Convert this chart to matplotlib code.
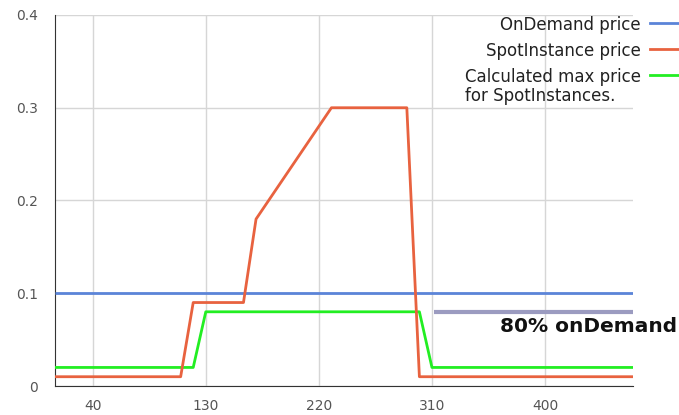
import matplotlib
matplotlib.use("Agg")
import matplotlib.pyplot as plt
from matplotlib.lines import Line2D

plt.rcParams['font.family'] = ['DejaVu Sans']

# Data
ondemand_x = [10, 470]
ondemand_y = [0.1, 0.1]
spot_x = [10, 110, 120, 160, 170, 230, 290, 300, 470]
spot_y = [0.01, 0.01, 0.09, 0.09, 0.18, 0.30, 0.30, 0.01, 0.01]
maxp_x = [10, 120, 130, 300, 310, 470]
maxp_y = [0.02, 0.02, 0.08, 0.08, 0.02, 0.02]
line80_x = [312, 470]
line80_y = [0.08, 0.08]
xticks = [40, 130, 220, 310, 400]
yticks = [0, 0.1, 0.2, 0.3, 0.4]
ytick_labels = ['0', '0.1', '0.2', '0.3', '0.4']
legend_labels = ['OnDemand price', 'SpotInstance price', 'Calculated max price\nfor SpotInstances.']

c_blue = '#5b84d8'
c_red = '#e8623f'
c_green = '#22ee22'
c_80 = '#9b9bc0'

W, H = 679, 415
fig = plt.figure(figsize=(W / 100, H / 100), dpi=100)
ax = fig.add_axes([55 / W, 1 - 386 / H, (633 - 55) / W, (386 - 15) / H])

ax.plot(ondemand_x, ondemand_y, color=c_blue, lw=2, solid_capstyle='butt', zorder=3)
ax.plot(spot_x, spot_y, color=c_red, lw=2, solid_capstyle='butt', zorder=4)
ax.plot(maxp_x, maxp_y, color=c_green, lw=2, solid_capstyle='butt', zorder=3)
ax.plot(line80_x, line80_y, color=c_80, lw=3, solid_capstyle='butt', zorder=3)

ax.set_xlim(10, 470)
ax.set_ylim(0, 0.4)
ax.set_xticks(xticks)
ax.set_xticklabels([str(v) for v in xticks])
ax.set_yticks(yticks)
ax.set_yticklabels(ytick_labels)
ax.grid(True, color='#d6d6d6', lw=1)
ax.set_axisbelow(True)
for s in ['top', 'right']:
    ax.spines[s].set_visible(False)
ax.spines['left'].set_color('#333333')
ax.spines['bottom'].set_color('#333333')
ax.tick_params(length=0, labelsize=10, colors='#555555')
ax.tick_params(axis='x', pad=9)
ax.tick_params(axis='y', pad=12)

fig.text(677 / W, 1 - 326 / H, '80% onDemand', ha='right', va='center',
         fontsize=14.5, fontweight='bold', color='#111111')

# legend
ys = [23, 49, 75]
for lab, y, c in zip(legend_labels, ys, [c_blue, c_red, c_green]):
    fig.text(641 / W, 1 - (y - 7) / H, lab, ha='right', va='top',
             multialignment='left', fontsize=12, color='#222222', linespacing=1.05)
    fig.add_artist(Line2D([650 / W, 1.0], [1 - y / H, 1 - y / H], color=c, lw=2,
                          transform=fig.transFigure))

fig.savefig('out.png', dpi=100)
